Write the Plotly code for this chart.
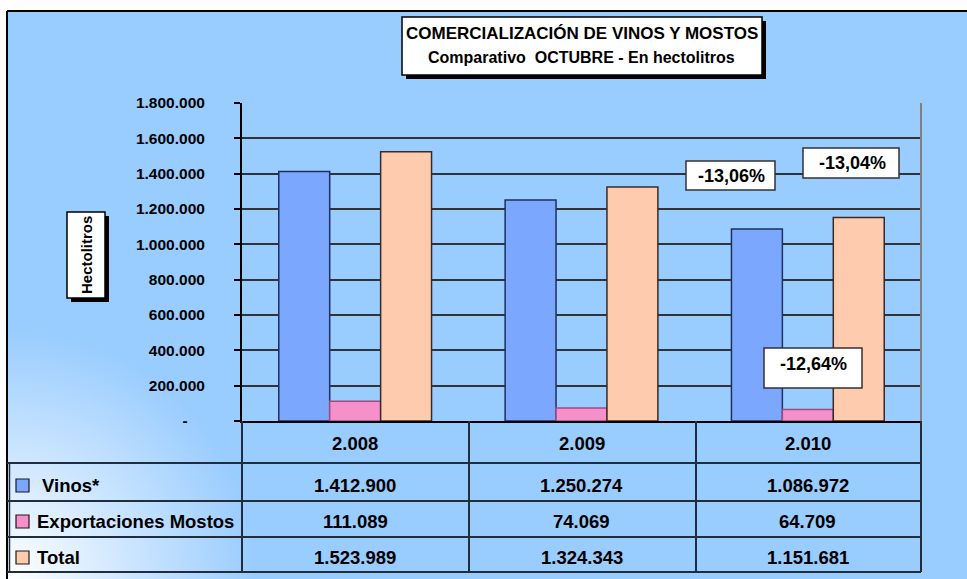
import base64
import plotly.graph_objects as go

# ---------------- data ----------------
categories = ["2.008", "2.009", "2.010"]
series_names = ["Vinos*", "Exportaciones Mostos", "Total"]
vinos = [1412900, 1250274, 1086972]
mostos = [111089, 74069, 64709]
total = [1523989, 1324343, 1151681]
y_tick_vals = [0, 200000, 400000, 600000, 800000, 1000000, 1200000, 1400000, 1600000, 1800000]
y_tick_text = ["-\u00a0\u00a0\u00a0\u00a0", "200.000", "400.000", "600.000", "800.000", "1.000.000",
               "1.200.000", "1.400.000", "1.600.000", "1.800.000"]
title_line1 = "COMERCIALIZACIÓN DE VINOS Y MOSTOS"
title_line2 = "Comparativo  OCTUBRE - En hectolitros"
y_title = "Hectolitros"

# ---------------- style ----------------
W, H = 967, 579
L, R, T, B = 242, 46, 103, 158
PW, PH = W - L - R, H - T - B
FONT = "Arial, Liberation Sans, sans-serif"
fills = ["#7BA7FF", "#F78FCB", "#FFCBAE"]
edges = ["#1F2F5F", "#A04C80", "#3A2A22"]
TABLE_LINE = "#1F2D3D"


def px(x):
    return (x - L) / PW


def py(y):
    return (H - B - y) / PH


def fmt(v):
    return f"{v:,}".replace(",", ".")


def pct(new, old):
    return f"{(new - old) / old * 100:.2f}%".replace(".", ",")


def ann(x, y, text, font, xref="paper", xanchor="center", **kw):
    d = dict(xref=xref, yref="paper", x=x, y=y, text=text, showarrow=False,
             xanchor=xanchor, yanchor="middle", font=font)
    d.update(kw)
    return d


fig = go.Figure()
for name, vals, fc, ec in zip(series_names, [vinos, mostos, total], fills, edges):
    fig.add_trace(go.Bar(x=categories, y=vals, name=name,
                         marker=dict(color=fc, line=dict(color=ec, width=1.5))))

# background with bottom-left gradient
svg = ('<svg xmlns="http://www.w3.org/2000/svg" width="960" height="568" viewBox="0 0 960 568" '
       'preserveAspectRatio="none"><defs><radialGradient id="g" gradientUnits="userSpaceOnUse" '
       'cx="0" cy="568" r="250"><stop offset="0" stop-color="#ffffff"/>'
       '<stop offset="1" stop-color="#99CCFF"/></radialGradient></defs>'
       '<rect width="960" height="568" fill="url(#g)"/></svg>')
src = "data:image/svg+xml;base64," + base64.b64encode(svg.encode()).decode()
images = [dict(source=src, xref="paper", yref="paper", x=px(7), y=py(11),
               sizex=(W - 7) / PW, sizey=(H - 11) / PH, xanchor="left", yanchor="top",
               sizing="stretch", layer="below")]

shapes = []
annotations = []

# outer frame (left and top)
shapes.append(dict(type="line", xref="paper", yref="paper", x0=px(7), x1=px(7), y0=py(11), y1=py(H),
                   line=dict(color="black", width=2)))
shapes.append(dict(type="line", xref="paper", yref="paper", x0=px(7), x1=px(W), y0=py(11), y1=py(11),
                   line=dict(color="black", width=2)))
# plot area right border
shapes.append(dict(type="line", xref="paper", yref="paper", x0=1, x1=1, y0=0, y1=1,
                   line=dict(color="#808080", width=2)))

# title box with shadow
shapes.append(dict(type="rect", xref="paper", yref="paper", x0=px(406), x1=px(766), y0=py(21), y1=py(79),
                   fillcolor="black", line=dict(width=0)))
shapes.append(dict(type="rect", xref="paper", yref="paper", x0=px(402), x1=px(762), y0=py(17), y1=py(75),
                   fillcolor="white", line=dict(color="black", width=1.5)))
annotations.append(ann(px(582), py(34), title_line1, dict(family=FONT, size=17, color="black", weight="bold")))
annotations.append(ann(px(581), py(58), title_line2, dict(family=FONT, size=16, color="black", weight="bold")))

# y-axis title box with shadow
shapes.append(dict(type="rect", xref="paper", yref="paper", x0=px(71), x1=px(109), y0=py(216), y1=py(302),
                   fillcolor="black", line=dict(width=0)))
shapes.append(dict(type="rect", xref="paper", yref="paper", x0=px(67), x1=px(105), y0=py(212), y1=py(298),
                   fillcolor="white", line=dict(color="black", width=1.5)))
annotations.append(ann(px(86), py(255), y_title, dict(family=FONT, size=15, color="black", weight="bold"),
                       textangle=-90))

# percentage change labels
pct_labels = [
    (pct(vinos[2], vinos[1]), (686, 161, 775, 190), (731, 176)),
    (pct(total[2], total[1]), (803, 148, 899, 178), (852, 163)),
    (pct(mostos[2], mostos[1]), (764, 348, 862, 388), (813, 364)),
]
for txt, (x0, y0, x1, y1), (cx, cy) in pct_labels:
    shapes.append(dict(type="rect", xref="paper", yref="paper", x0=px(x0), x1=px(x1), y0=py(y0), y1=py(y1),
                       fillcolor="white", line=dict(color="#333333", width=1.5)))
    annotations.append(ann(px(cx), py(cy), txt, dict(family=FONT, size=18, color="black", weight="bold")))

# data table
for yl in [463, 501, 537, 572]:
    shapes.append(dict(type="line", xref="paper", yref="paper", x0=px(7), x1=1, y0=py(yl), y1=py(yl),
                       line=dict(color=TABLE_LINE, width=2)))
for xl in [242, 469, 696, 921]:
    shapes.append(dict(type="line", xref="paper", yref="paper", x0=px(xl), x1=px(xl), y0=0, y1=py(572),
                       line=dict(color=TABLE_LINE, width=2)))
shapes.append(dict(type="line", xref="paper", yref="paper", x0=px(9.5), x1=px(9.5), y0=py(463), y1=py(572),
                   line=dict(color=TABLE_LINE, width=1.5)))

tfont = dict(family=FONT, size=18.5, color="black", weight="bold")
for i, c in enumerate(categories):
    annotations.append(ann(i, py(443), c, tfont, xref="x"))
row_y = [485, 521, 557]
label_x = [40, 35, 35]
for vals, name, ry, lx, fc in zip([vinos, mostos, total], series_names, row_y, label_x, fills):
    for i, v in enumerate(vals):
        annotations.append(ann(i, py(ry), fmt(v), tfont, xref="x"))
    annotations.append(ann(px(lx), py(ry), name, tfont, xanchor="left"))
    shapes.append(dict(type="rect", xref="paper", yref="paper", x0=px(16), x1=px(29), y0=py(ry - 6),
                       y1=py(ry + 7), fillcolor=fc, line=dict(color="#1a1a1a", width=1.2)))

fig.update_layout(
    width=W, height=H, autosize=False,
    margin=dict(l=L, r=R, t=T, b=B, pad=0),
    paper_bgcolor="white", plot_bgcolor="white",
    barmode="group", bargap=0.325, bargroupgap=0,
    showlegend=False,
    images=images, shapes=shapes, annotations=annotations,
    xaxis=dict(type="category", showticklabels=False, ticks="", showgrid=False, showline=True,
               linecolor="black", linewidth=2, zeroline=False),
    yaxis=dict(range=[0, 1800000], tickvals=y_tick_vals, ticktext=y_tick_text,
               ticks="outside", ticklen=6, tickwidth=1.5, tickcolor="black",
               ticklabelstandoff=26,
               showgrid=True, gridcolor="#333333", gridwidth=1.5,
               showline=True, linecolor="black", linewidth=2, zeroline=False,
               tickfont=dict(family=FONT, size=15.5, color="black", weight="bold")),
)

fig.write_html("out.html", config={"displayModeBar": False},
               post_script="document.body.style.margin='0';document.body.style.overflow='hidden';")
